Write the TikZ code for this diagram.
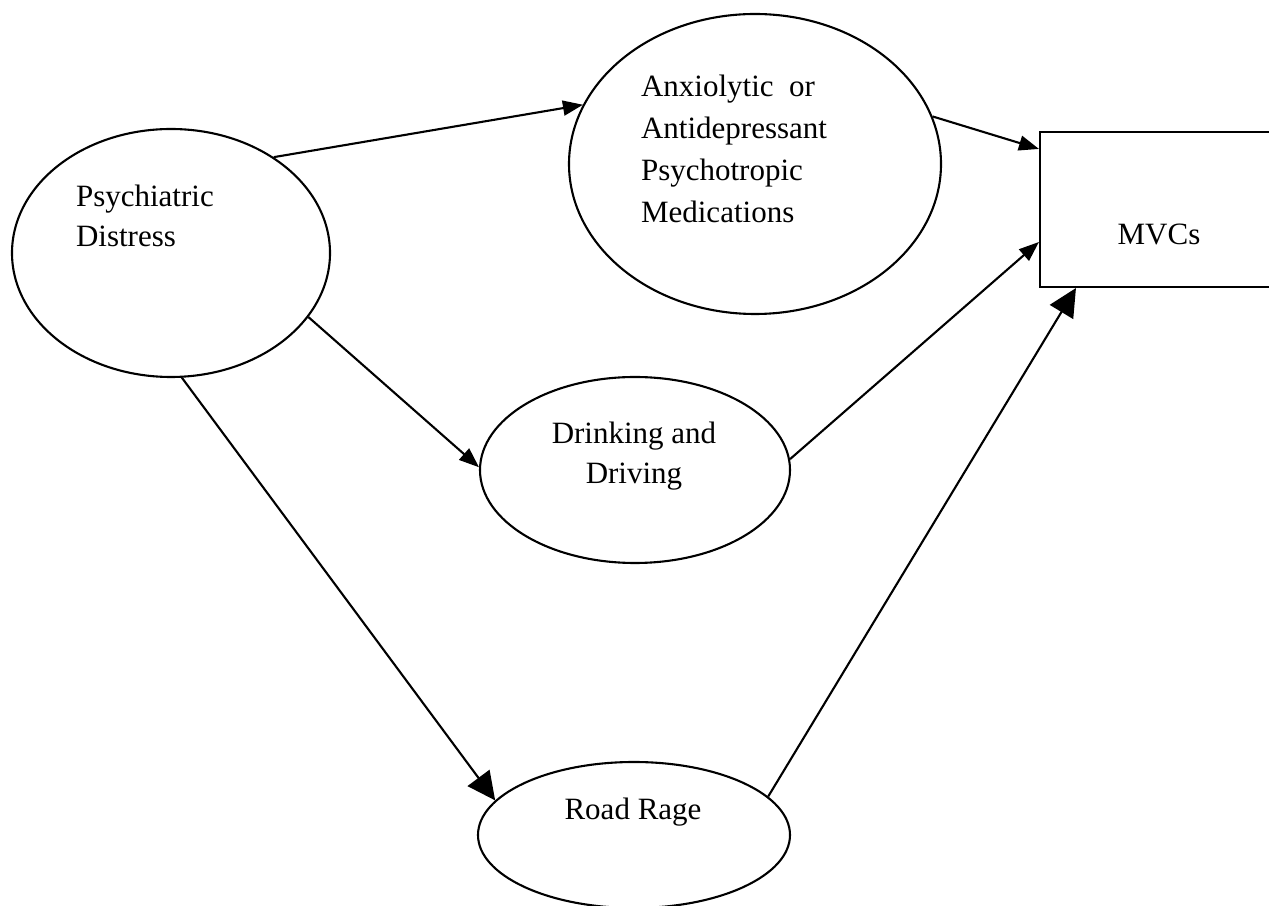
\documentclass[tikz,border=0pt]{standalone}
\usepackage{fontspec}
\setmainfont{Liberation Serif}
\usetikzlibrary{shapes.geometric,arrows.meta,calc}
\begin{document}
\begin{tikzpicture}[x=1pt,y=1pt,
  line width=2.1pt,
  oval/.style={draw,ellipse,inner sep=0pt},
  box/.style={draw,rectangle,inner sep=0pt},
  txt/.style={inner sep=0pt,font=\fontsize{31}{40}\selectfont},
  small/.style={-{Triangle[length=20pt,width=15pt]}},
  big/.style={-{Triangle[length=28pt,width=27pt]}}]
\useasboundingbox (0,0) rectangle (1269,905);
\clip (0,0) rectangle (1269,905);
% shapes
\node[oval,minimum width=318pt,minimum height=248pt] (psy) at (171,652) {};
\node[oval,minimum width=372pt,minimum height=300pt] (anx) at (755,741) {};
\node[oval,minimum width=310pt,minimum height=186pt] (drk) at (635,435) {};
\node[oval,minimum width=312pt,minimum height=146pt] (rr) at (634,70) {};
\node[box,minimum width=240pt,minimum height=155pt] (mvc) at (1160,695.5) {};
% texts
\node[txt,anchor=north west,align=left] (tpsy) at (75,721) {Psychiatric\\Distress};
\node[txt,anchor=north west,align=left,font=\fontsize{31}{42}\selectfont] (tanx) at (640,831)
  {Anxiolytic\ \ or\\Antidepressant\\Psychotropic\\Medications};
\node[txt,anchor=north,align=center] (tdrk) at (634,484) {Drinking and\\Driving};
\node[txt,anchor=base] (trr) at (633,85) {Road Rage};
\node[txt,anchor=base] (tmvc) at (1159,660) {MVCs};
% connector ends on the box
\coordinate (m1) at ($(mvc.north west)+(0,-18)$);
\coordinate (m2) at ($(mvc.west)+(0,-32.5)$);
\coordinate (m3) at ($(mvc.south west)+(37,0)$);
% connectors
\draw[small] (psy.43.5) -- (anx.161.2);
\draw[small] (psy.-25) -- (drk.179);
\draw[big] (psy.-85) -- (rr.166.8);
\draw[small] (anx.15.6) -- (m1);
\draw[small] (drk.4) -- (m2);
\draw[big] (rr.16.1) -- (m3);
\end{tikzpicture}
\end{document}
